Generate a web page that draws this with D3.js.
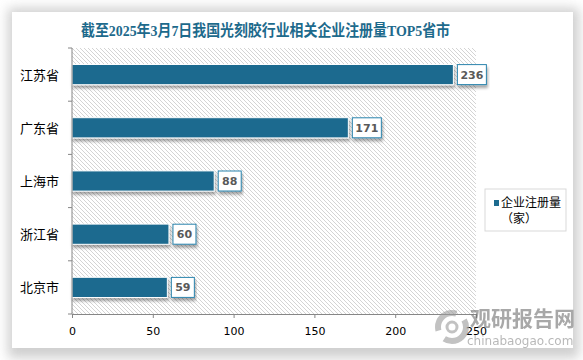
<!DOCTYPE html>
<html>
<head>
<meta charset="utf-8">
<script src="https://cdn.jsdelivr.net/npm/d3@7"></script>
<style>
  body { margin: 0; background: #fff; }
  text { font-family: "Noto Sans CJK SC", "Noto Sans", sans-serif; }
</style>
</head>
<body>
<div id="chart"></div>
<script>
// data
var provinces = ["江苏省", "广东省", "上海市", "浙江省", "北京市"];
var counts = [236, 171, 88, 60, 59];
var xTicks = [0, 50, 100, 150, 200, 250];
var title = "截至2025年3月7日我国光刻胶行业相关企业注册量TOP5省市";
var legendLines = ["企业注册量", "（家）"];

var W = 583, H = 360;
var margin = { top: 48, right: 107, bottom: 46, left: 72 };
var width = W - margin.left - margin.right,
    height = H - margin.top - margin.bottom;

var svg = d3.select("#chart").append("svg")
    .attr("width", W)
    .attr("height", H);

var defs = svg.append("defs");

// soft grey frame around the white card
var blur = defs.append("filter").attr("id", "cardShadow")
    .attr("x", "-5%").attr("y", "-5%").attr("width", "110%").attr("height", "110%");
blur.append("feGaussianBlur").attr("stdDeviation", 6);

var barShadow = defs.append("filter").attr("id", "barShadow")
    .attr("x", "-10%").attr("y", "-30%").attr("width", "120%").attr("height", "170%");
barShadow.append("feDropShadow")
    .attr("dx", 1).attr("dy", 3).attr("stdDeviation", 1.5)
    .attr("flood-color", "#000").attr("flood-opacity", 0.35);

var hatch = defs.append("pattern").attr("id", "hatch")
    .attr("patternUnits", "userSpaceOnUse")
    .attr("width", 4).attr("height", 4);
hatch.append("rect").attr("width", 4).attr("height", 4).attr("fill", "#fff");
hatch.append("path")
    .attr("d", "M-1,-1 L5,5 M-1,3 L1,5 M3,-1 L5,1")
    .attr("stroke", "#cfcfcf").attr("stroke-width", 0.9);

svg.append("rect").attr("width", W).attr("height", H).attr("fill", "#fff");
svg.append("rect")
    .attr("x", 8).attr("y", 8).attr("width", W - 12).attr("height", H - 10)
    .attr("fill", "#cfcfcf").attr("filter", "url(#cardShadow)");
svg.append("rect")
    .attr("x", 12).attr("y", 12).attr("width", 561).attr("height", 336)
    .attr("fill", "#fff");

// title
svg.append("text")
    .attr("x", 81).attr("y", 36)
    .attr("textLength", 369)
    .attr("lengthAdjust", "spacingAndGlyphs")
    .style("font-family", "'Liberation Serif', 'Noto Sans CJK SC', serif")
    .style("font-weight", "bold")
    .style("font-size", "15.5px")
    .attr("fill", "#1d6a8c")
    .text(title);

var g = svg.append("g")
    .attr("transform", "translate(" + margin.left + "," + margin.top + ")");

var x = d3.scaleLinear().domain([0, 250]).range([0, width]);
var y = d3.scaleBand().domain(provinces).range([0, height]).paddingInner(0.62).paddingOuter(0.31);
var yTicks = d3.scaleBand().domain(provinces).range([0, height]);

g.append("rect")
    .attr("width", width).attr("height", height)
    .attr("fill", "url(#hatch)");

// bars
g.selectAll(".bar")
    .data(counts)
    .enter().append("rect")
    .attr("class", "bar")
    .attr("x", 0)
    .attr("y", function (d, i) { return y(provinces[i]); })
    .attr("width", function (d) { return x(d); })
    .attr("height", y.bandwidth())
    .attr("fill", "#1d6b8f")
    .attr("stroke", "#fff")
    .attr("stroke-width", 1)
    .attr("filter", "url(#barShadow)");

// value labels
var labels = g.selectAll(".lbl")
    .data(counts)
    .enter().append("g")
    .attr("class", "lbl")
    .attr("transform", function (d, i) {
        return "translate(" + (x(d) + 4) + "," + (y(provinces[i]) + y.bandwidth() / 2) + ")";
    });
labels.append("rect")
    .attr("x", 0).attr("y", -10)
    .attr("width", function (d) { return String(d).length === 3 ? 29 : 23; })
    .attr("height", 20)
    .attr("fill", "#fff")
    .attr("stroke", "#2a84ad")
    .attr("stroke-width", 1)
    .attr("filter", "url(#barShadow)");
labels.append("text")
    .attr("x", function (d) { return String(d).length === 3 ? 14.5 : 11.5; })
    .attr("y", 4)
    .attr("text-anchor", "middle")
    .style("font-family", "'DejaVu Sans', sans-serif")
    .style("font-weight", "bold")
    .style("font-size", "11px")
    .attr("fill", "#595959")
    .text(function (d) { return d; });

// axes
var xAxis = d3.axisBottom(x).tickValues(xTicks).tickSize(4).tickPadding(9);
var gx = g.append("g")
    .attr("transform", "translate(0," + height + ")")
    .call(xAxis);
gx.select(".domain").attr("stroke", "#868686");
gx.selectAll(".tick line").attr("stroke", "#868686");
gx.selectAll("text")
    .style("font-family", "'DejaVu Sans', sans-serif")
    .style("font-size", "11px")
    .attr("fill", "#000");

var gy = g.append("g");
gy.append("line")
    .attr("x1", 0).attr("x2", 0).attr("y1", 0).attr("y2", height)
    .attr("stroke", "#868686");
gy.selectAll(".yt")
    .data(provinces.concat(["end"]))
    .enter().append("line")
    .attr("x1", -4).attr("x2", 0)
    .attr("y1", function (d, i) { return i * yTicks.bandwidth(); })
    .attr("y2", function (d, i) { return i * yTicks.bandwidth(); })
    .attr("stroke", "#868686");
gy.selectAll(".cat")
    .data(provinces)
    .enter().append("text")
    .attr("x", -13)
    .attr("y", function (d) { return yTicks(d) + yTicks.bandwidth() / 2 + 5; })
    .attr("text-anchor", "end")
    .style("font-size", "13px")
    .attr("fill", "#000")
    .text(function (d) { return d; });

// legend
var lg = svg.append("g").attr("transform", "translate(485,189)");
lg.append("rect").attr("width", 81).attr("height", 42)
    .attr("fill", "#fff").attr("stroke", "#d9d9d9");
lg.append("rect").attr("x", 9).attr("y", 11).attr("width", 5).attr("height", 6)
    .attr("fill", "#1d6b8f");
lg.selectAll(".lt")
    .data(legendLines)
    .enter().append("text")
    .attr("x", 16)
    .attr("y", function (d, i) { return 18 + i * 16; })
    .style("font-size", "12px")
    .attr("fill", "#000")
    .text(function (d) { return d; });

// watermark
var wm = svg.append("g").attr("opacity", 0.6);
wm.append("circle").attr("cx", 452).attr("cy", 327).attr("r", 14)
    .attr("fill", "none").attr("stroke", "#9a9a9a").attr("stroke-width", 6)
    .attr("stroke-dasharray", "30 10");
wm.append("circle").attr("cx", 452).attr("cy", 327).attr("r", 5)
    .attr("fill", "none").attr("stroke", "#9a9a9a").attr("stroke-width", 3);
wm.append("text")
    .attr("x", 470).attr("y", 326)
    .style("font-size", "21px").style("font-weight", "bold")
    .attr("fill", "#6f6f6f")
    .text("观研报告网");
wm.append("text")
    .attr("x", 467).attr("y", 345)
    .style("font-family", "'DejaVu Sans', sans-serif")
    .style("font-size", "12px")
    .attr("fill", "#8a8a8a")
    .text("chinabaogao.com");
</script>
</body>
</html>
